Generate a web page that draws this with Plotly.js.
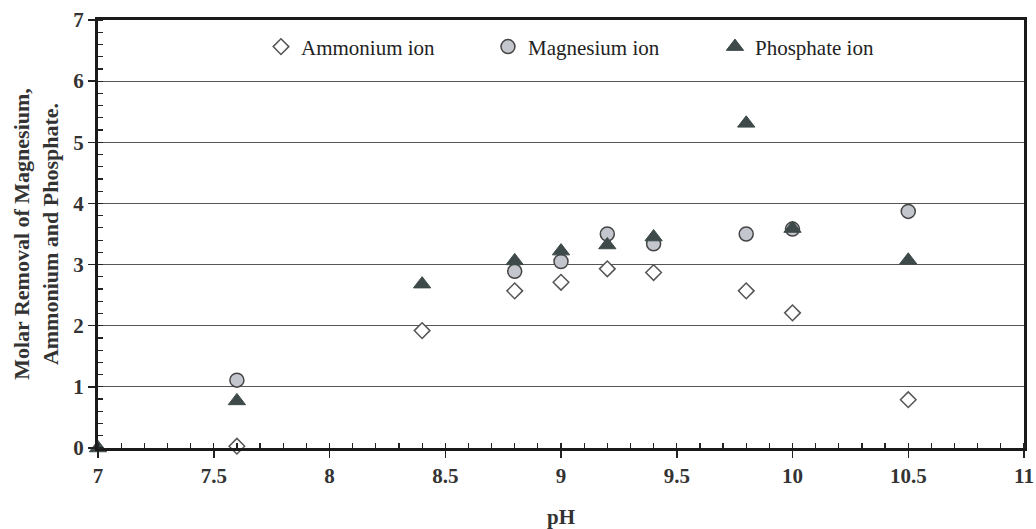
<!DOCTYPE html>
<html>
<head>
<meta charset="utf-8">
<script src="https://cdn.plot.ly/plotly-3.0.1.min.js"></script>
<style>html,body{margin:0;padding:0;background:#fff;}#chart{width:1036px;height:529px;}</style>
</head>
<body>
<div id="chart"></div>
<script>
const pHAm = [7.6, 8.4, 8.8, 9.0, 9.2, 9.4, 9.8, 10.0, 10.5];
const ammonium = [0.03, 1.92, 2.57, 2.71, 2.93, 2.87, 2.57, 2.21, 0.79];
const pHMg = [7.6, 8.8, 9.0, 9.2, 9.4, 9.8, 10.0, 10.5];
const magnesium = [1.11, 2.89, 3.05, 3.50, 3.34, 3.50, 3.58, 3.87];
const pHP = [7.0, 7.6, 8.4, 8.8, 9.0, 9.2, 9.4, 9.8, 10.0, 10.5];
const phosphate = [0, 0.77, 2.68, 3.06, 3.22, 3.32, 3.45, 5.31, 3.59, 3.07];
const seriesNames = ["Ammonium ion", "Magnesium ion", "Phosphate ion"];
const xTicks = [7, 7.5, 8, 8.5, 9, 9.5, 10, 10.5, 11];
const yTicks = [0, 1, 2, 3, 4, 5, 6, 7];

const traces = [
  {x: pHAm, y: ammonium, name: seriesNames[0], mode: "markers", type: "scatter", cliponaxis: false,
   marker: {symbol: "diamond", size: 12, color: "#ffffff", line: {color: "#555555", width: 1.5}}},
  {x: pHMg, y: magnesium, name: seriesNames[1], mode: "markers", type: "scatter", cliponaxis: false,
   marker: {symbol: "circle", size: 14, color: "#c3c6cd", line: {color: "#444444", width: 1.5}}},
  {x: pHP, y: phosphate, name: seriesNames[2], mode: "markers", type: "scatter", cliponaxis: false,
   marker: {symbol: "triangle-up", size: 15, color: "#3e4a4a", line: {color: "#3e4a4a", width: 1}}}
];

const font = "Liberation Serif";
const layout = {
  width: 1036, height: 529,
  margin: {l: 98, r: 12, t: 20, b: 81},
  paper_bgcolor: "#ffffff", plot_bgcolor: "#ffffff",
  font: {family: font, color: "#333333"},
  showlegend: true,
  legend: {orientation: "h", x: 0.176, y: 0.937, xanchor: "left", yanchor: "middle",
           entrywidth: 182, entrywidthmode: "pixels", itemwidth: 30,
           font: {family: font, size: 21, color: "#222222"}, bgcolor: "rgba(0,0,0,0)"},
  xaxis: {
    range: [7, 11], tickvals: xTicks, ticktext: xTicks.map(String),
    ticks: "outside", ticklen: 7, tickwidth: 1.5, tickcolor: "#222",
    minor: {dtick: 0.1, ticks: "inside", ticklen: 5, tickwidth: 1.2, tickcolor: "#222", showgrid: false},
    showline: true, linewidth: 3, linecolor: "#1a1a1a", mirror: true,
    showgrid: false, zeroline: false,
    tickfont: {family: font, size: 21, color: "#333", weight: "bold"},
    title: {text: "<b>pH</b>", font: {family: font, size: 21, color: "#333"}, standoff: 24}
  },
  yaxis: {
    range: [0, 7], tickvals: yTicks, ticktext: yTicks.map(String),
    ticks: "outside", ticklen: 7, tickwidth: 1.5, tickcolor: "#222",
    minor: {dtick: 0.2, ticks: "inside", ticklen: 5, tickwidth: 1.2, tickcolor: "#222", showgrid: false},
    showline: true, linewidth: 3, linecolor: "#1a1a1a", mirror: true,
    showgrid: true, gridcolor: "#555555", gridwidth: 1.2, zeroline: false,
    tickfont: {family: font, size: 21, color: "#333", weight: "bold"},
    title: {text: "<b>Molar Removal of Magnesium,<br>Ammonium and Phosphate.</b>", font: {family: font, size: 22, color: "#333"}, standoff: 9}
  }
};

Plotly.newPlot("chart", traces, layout, {displayModeBar: false, staticPlot: true});
</script>
</body>
</html>
